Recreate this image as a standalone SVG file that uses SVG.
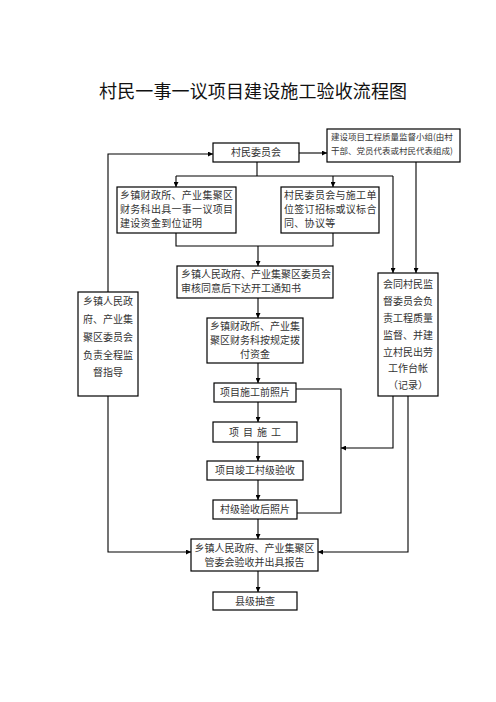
<svg xmlns="http://www.w3.org/2000/svg" width="496" height="702" viewBox="0 0 496 702">
<defs>
<marker id="ah" viewBox="0 0 10 10" refX="10" refY="5" markerWidth="5" markerHeight="5" orient="auto" markerUnits="userSpaceOnUse">
<path d="M0,0 L10,5 L0,10 z" fill="#000"/>
</marker>
<style>
.b{fill:#fff;stroke:#000;stroke-width:1.2}
.t{font-family:"Noto Sans CJK SC","Noto Sans CJK JP",sans-serif;font-size:10px;fill:#333}
.c{text-anchor:middle}
.s{font-size:8.5px}
.ln{fill:none;stroke:#000;stroke-width:1.1}
.ar{fill:none;stroke:#000;stroke-width:1.1;marker-end:url(#ah)}
</style>
</defs>
<rect width="496" height="702" fill="#fff"/>
<text x="253" y="98" text-anchor="middle" font-family="'Noto Sans CJK SC','Noto Sans CJK JP',sans-serif" font-size="18" fill="#111" textLength="308">村民一事一议项目建设施工验收流程图</text>

<g id="connectors">
<path class="ar" d="M108,292 V154 H213"/>
<path class="ar" d="M299,153 H327"/>
<path class="ln" d="M257,162 V176"/>
<path class="ln" d="M176,176 H393"/>
<path class="ar" d="M176,176 V187"/>
<path class="ar" d="M333,176 V187"/>
<path class="ar" d="M393,176 V273"/>
<path class="ar" d="M416,162 V273"/>
<path class="ln" d="M176,233 V246 H333 V233"/>
<path class="ar" d="M258,246 V266"/>
<path class="ar" d="M258,298 V318"/>
<path class="ar" d="M258,363 V383"/>
<path class="ar" d="M258,402 V422"/>
<path class="ar" d="M258,442 V461"/>
<path class="ar" d="M258,480 V500"/>
<path class="ar" d="M258,519 V539"/>
<path class="ar" d="M258,571 V592"/>
<path class="ln" d="M296,389 H341 V513 H297"/>
<path class="ar" d="M393,396 V448 H341"/>
<path class="ar" d="M408,396 V552 H318"/>
<path class="ar" d="M108,396 V552 H191"/>
</g>

<g id="n-cwh">
<rect class="b" x="213" y="143" width="86" height="19"/>
<text class="t c" x="256" y="156">村民委员会</text>
</g>
<g id="n-jdxz">
<rect class="b" x="327" y="129" width="133" height="33"/>
<text class="t s" x="331" y="140">建设项目工程质量监督小组(由村</text>
<text class="t s" x="331" y="154">干部、党员代表或村民代表组成)</text>
</g>
<g id="n-czs1">
<rect class="b" x="117" y="187" width="119" height="46"/>
<text class="t" x="120" y="199" letter-spacing="0.3">乡镇财政所、产业集聚区</text>
<text class="t" x="120" y="213" letter-spacing="0.3">财务科出具一事一议项目</text>
<text class="t" x="120" y="227" letter-spacing="0.3">建设资金到位证明</text>
</g>
<g id="n-qd">
<rect class="b" x="281" y="187" width="98" height="46"/>
<text class="t" x="284" y="199" letter-spacing="0.3">村民委员会与施工单</text>
<text class="t" x="284" y="213" letter-spacing="0.3">位签订招标或议标合</text>
<text class="t" x="284" y="227" letter-spacing="0.3">同、协议等</text>
</g>
<g id="n-sp">
<rect class="b" x="177" y="266" width="156" height="32"/>
<text class="t" x="181" y="278">乡镇人民政府、产业集聚区委员会</text>
<text class="t" x="181" y="292">审核同意后下达开工通知书</text>
</g>
<g id="n-jd">
<rect class="b" x="78" y="292" width="60" height="104"/>
<text class="t c" x="108" y="305">乡镇人民政</text>
<text class="t c" x="108" y="323">府、产业集</text>
<text class="t c" x="108" y="341">聚区委员会</text>
<text class="t c" x="108" y="359">负责全程监</text>
<text class="t c" x="108" y="376">督指导</text>
</g>
<g id="n-bf">
<rect class="b" x="207" y="318" width="96" height="45"/>
<text class="t c" x="255" y="330">乡镇财政所、产业集</text>
<text class="t c" x="255" y="344">聚区财务科按规定拨</text>
<text class="t c" x="255" y="358">付资金</text>
</g>
<g id="n-hjd">
<rect class="b" x="378" y="273" width="60" height="123"/>
<text class="t c" x="408" y="288">会同村民监</text>
<text class="t c" x="408" y="305">督委员会负</text>
<text class="t c" x="408" y="322">责工程质量</text>
<text class="t c" x="408" y="339">监督、并建</text>
<text class="t c" x="408" y="356">立村民出劳</text>
<text class="t c" x="408" y="372">工作台帐</text>
<text class="t c" x="408" y="389">（记录）</text>
</g>
<g id="n-qzp">
<rect class="b" x="214" y="383" width="82" height="19"/>
<text class="t c" x="255" y="396">项目施工前照片</text>
</g>
<g id="n-sg">
<rect class="b" x="213" y="422" width="84" height="20"/>
<text class="t c" x="257" y="436" letter-spacing="4">项目施工</text>
</g>
<g id="n-jg">
<rect class="b" x="207" y="461" width="96" height="19"/>
<text class="t c" x="255" y="474">项目竣工村级验收</text>
</g>
<g id="n-hzp">
<rect class="b" x="213" y="500" width="84" height="19"/>
<text class="t c" x="255" y="513">村级验收后照片</text>
</g>
<g id="n-ys">
<rect class="b" x="191" y="539" width="127" height="32"/>
<text class="t c" x="254.5" y="552">乡镇人民政府、产业集聚区</text>
<text class="t c" x="254.5" y="566">管委会验收并出具报告</text>
</g>
<g id="n-xj">
<rect class="b" x="213" y="592" width="84" height="18"/>
<text class="t c" x="255" y="605">县级抽查</text>
</g>
</svg>
